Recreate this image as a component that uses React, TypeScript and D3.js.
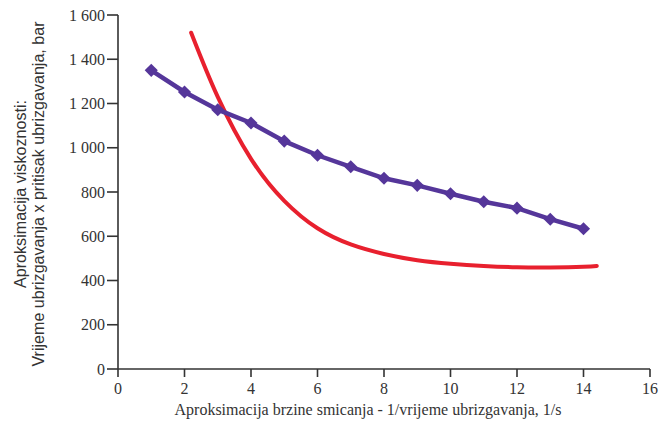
import React from 'react';
import * as d3 from 'd3';

// purple series: measured points (diamond markers)
const shearX = [1, 2, 3, 4, 5, 6, 7, 8, 9, 10, 11, 12, 13, 14];
const viscY = [1350, 1252, 1172, 1112, 1030, 966, 914, 862, 830, 792, 756, 727, 677, 634];

// red series: approximation curve
const curveX = [2.2, 3, 4, 5, 6, 7, 8, 9, 10, 11, 12, 13, 14, 14.4];
const curveY = [1520, 1230, 950, 760, 636, 563, 520, 492, 476, 466, 460, 459, 462, 466];

const xTicks = [0, 2, 4, 6, 8, 10, 12, 14, 16];
const yTicks = [0, 200, 400, 600, 800, 1000, 1200, 1400, 1600];

const xTitle = 'Aproksimacija brzine smicanja - 1/vrijeme ubrizgavanja, 1/s';
const yTitle1 = 'Aproksimacija viskoznosti:';
const yTitle2 = 'Vrijeme ubrizgavanja x pritisak ubrizgavanja, bar';

const W = 661;
const H = 429;
const FONT = '"Liberation Serif", "DejaVu Serif", serif';
const SANS = '"Liberation Sans Narrow", "Liberation Sans", Arial, sans-serif';

const fmt = d3.formatLocale({ decimal: '.', thousands: ' ', grouping: [3], currency: ['', ''] }).format(',');

export default function App() {
  const x = d3.scaleLinear().domain([0, 16]).range([118, 650]);
  const y = d3.scaleLinear().domain([0, 1600]).range([369, 15]);

  const line = d3.line<[number, number]>()
    .x(d => x(d[0]))
    .y(d => y(d[1]));

  const curve = d3.line<[number, number]>()
    .x(d => x(d[0]))
    .y(d => y(d[1]))
    .curve(d3.curveNatural);

  const pts: [number, number][] = shearX.map((v, i) => [v, viscY[i]]);
  const redPts: [number, number][] = curveX.map((v, i) => [v, curveY[i]]);

  const diamond = d3.symbol().type(d3.symbolDiamond2).size(110)();

  return (
    <svg width={W} height={H} style={{ position: 'absolute', left: 0, top: 0, background: '#fff' }}>
      {/* axes */}
      <g stroke="#333" strokeWidth={1.6} fill="none">
        <line x1={x(0)} x2={x(0)} y1={y(0)} y2={y(1600)} />
        <line x1={x(0)} x2={x(16)} y1={y(0)} y2={y(0)} />
        {yTicks.map(t => (
          <line key={'yt' + t} x1={x(0) - 11} x2={x(0)} y1={y(t)} y2={y(t)} />
        ))}
        {xTicks.map(t => (
          <line key={'xt' + t} x1={x(t)} x2={x(t)} y1={y(0)} y2={y(0) + 8} />
        ))}
      </g>
      <g fontFamily={FONT} fontSize={16} fill="#333">
        {yTicks.map(t => (
          <text key={'yl' + t} x={x(0) - 13} y={y(t)} dy="0.35em" textAnchor="end">{fmt(t)}</text>
        ))}
        {xTicks.map(t => (
          <text key={'xl' + t} x={x(t)} y={y(0) + 25} textAnchor="middle">{t}</text>
        ))}
        <text x={368} y={415} textAnchor="middle">{xTitle}</text>
      </g>
      <g fontFamily={SANS} fontSize={16} fill="#333">
        <text transform="translate(26,194) rotate(-90)" textAnchor="middle"
          textLength={188} lengthAdjust="spacingAndGlyphs">{yTitle1}</text>
        <text transform="translate(44,194) rotate(-90)" textAnchor="middle"
          textLength={345} lengthAdjust="spacingAndGlyphs">{yTitle2}</text>
      </g>

      {/* red approximation curve */}
      <path d={curve(redPts) || ''} fill="none" stroke="#e8202e" strokeWidth={4} strokeLinecap="round" />

      {/* purple measured line */}
      <path d={line(pts) || ''} fill="none" stroke="#55369a" strokeWidth={4.5} />
      {pts.map((p, i) => (
        <path key={i} d={diamond || ''} transform={`translate(${x(p[0])},${y(p[1])})`} fill="#55369a" />
      ))}
    </svg>
  );
}
